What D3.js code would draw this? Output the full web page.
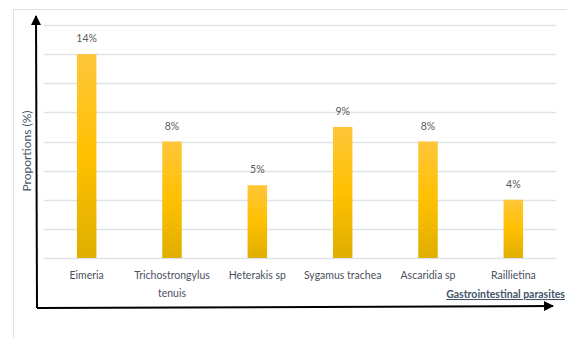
<!DOCTYPE html>
<html><head><meta charset="utf-8">
<script src="https://cdn.jsdelivr.net/npm/d3@7"></script>
<style>body{margin:0;background:#fff;} svg{display:block;}</style>
</head><body>
<svg id="c" width="567" height="338"></svg>
<script>
const categories = [["Eimeria"],["Trichostrongylus","tenuis"],["Heterakis sp"],["Sygamus trachea"],["Ascaridia sp"],["Raillietina"]];
const values = [14, 8, 5, 9, 8, 4];
const yTicks = [0,2,4,6,8,10,12,14,16];
const yTitle = "Proportions (%)";
const xTitle = "Gastrointestinal parasites";

(function(){
const svg = d3.select("#c");
const font = "Lato, 'Open Sans', sans-serif";
const pLeft = 44, pRight = 556, pTop = 25, pBottom = 258;

// outer frame
svg.append("path").attr("d","M13.5,338 L13.5,9.5 L567,9.5").attr("fill","none").attr("stroke","#dcdfe3").attr("stroke-width",1);

const x = d3.scaleBand().domain(d3.range(categories.length)).range([pLeft,pRight]).paddingInner(0.78).paddingOuter(0.39);
const y = d3.scaleLinear().domain([0,16]).range([pBottom,pTop]);

// gridlines
svg.append("g").selectAll("line").data(yTicks).join("line")
  .attr("x1",pLeft).attr("x2",pRight)
  .attr("y1",d=>Math.round(y(d))+0.5).attr("y2",d=>Math.round(y(d))+0.5)
  .attr("stroke","#dfe3e9").attr("stroke-width",1.3);

const defs = svg.append("defs");
const g = defs.append("linearGradient").attr("id","bg").attr("x1",0).attr("y1",0).attr("x2",0).attr("y2",1);
g.append("stop").attr("offset","0%").attr("stop-color","#ffc63a");
g.append("stop").attr("offset","50%").attr("stop-color","#ffc000");
g.append("stop").attr("offset","100%").attr("stop-color","#dfae00");

const bw = 19.5;
svg.append("g").selectAll("rect").data(values).join("rect")
  .attr("x",(d,i)=>x(i)+x.bandwidth()/2-bw/2)
  .attr("width",bw)
  .attr("y",d=>y(d)).attr("height",d=>pBottom-y(d))
  .attr("fill","url(#bg)");

svg.append("g").selectAll("text").data(values).join("text")
  .attr("x",(d,i)=>x(i)+x.bandwidth()/2)
  .attr("y",d=>y(d)-12)
  .attr("text-anchor","middle").attr("font-family",font).attr("font-size",10.5)
  .attr("fill","#595959").text(d=>d+"%");

const cl = svg.append("g").selectAll("text").data(categories).join("text")
  .attr("x",(d,i)=>x(i)+x.bandwidth()/2)
  .attr("y",279)
  .attr("text-anchor","middle").attr("font-family",font).attr("font-size",10.5)
  .attr("fill","#4a5060");
cl.selectAll("tspan").data(d=>d).join("tspan")
  .attr("x",function(){return d3.select(this.parentNode).attr("x");})
  .attr("dy",(d,i)=>i===0?0:18).text(d=>d);

// axes with arrows
const mk = defs.append("marker").attr("id","arr").attr("viewBox","0 0 10 10").attr("refX",9).attr("refY",5)
  .attr("markerWidth",5).attr("markerHeight",5).attr("orient","auto");
mk.append("path").attr("d","M0,0 L10,5 L0,10 Z").attr("fill","#000");
svg.append("line").attr("x1",37).attr("y1",308).attr("x2",36).attr("y2",16)
  .attr("stroke","#000").attr("stroke-width",2).attr("marker-end","url(#arr)");
svg.append("line").attr("x1",37).attr("y1",308).attr("x2",553).attr("y2",306)
  .attr("stroke","#000").attr("stroke-width",2).attr("marker-end","url(#arr)");

svg.append("text").attr("transform","translate(31,151) rotate(-90)")
  .attr("text-anchor","middle").attr("font-family",font).attr("font-size",12)
  .attr("fill","#44546a").text(yTitle);

svg.append("text").attr("x",565).attr("y",298).attr("text-anchor","end")
  .attr("font-family",font).attr("font-size",10.5).attr("font-weight","bold")
  .attr("fill","#44546a").attr("text-decoration","underline").text(xTitle);
})();
</script>
</body></html>
